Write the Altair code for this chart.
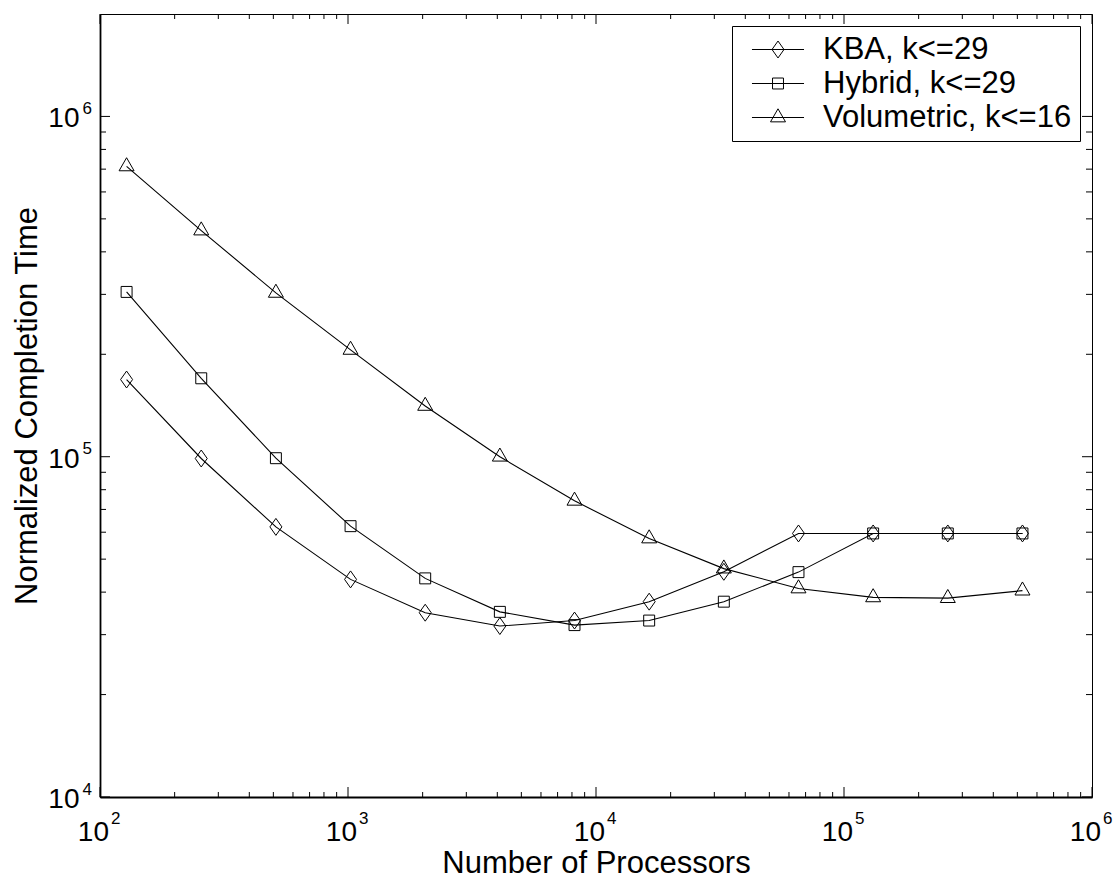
import altair as alt
import pandas as pd

# ---------------- data ----------------
procs = [128, 256, 512, 1024, 2048, 4096, 8192, 16384, 32768, 65536, 131072, 262144, 524288]
kba = [168600, 98800, 62200, 43600, 34800, 31800, 33000, 37500, 45900, 59500, 59500, 59500, 59500]
hybrid = [305000, 170000, 99000, 62500, 43900, 35000, 32000, 33000, 37500, 45800, 59500, 59500, 59500]
volumetric = [713000, 462000, 303000, 206000, 141000, 100000, 74200, 57500, 46900, 41000, 38600, 38400, 40400]
series_names = ["KBA, k<=29", "Hybrid, k<=29", "Volumetric, k<=16"]

x_major = [100, 1000, 10000, 100000, 1000000]
x_exp = ["2", "3", "4", "5", "6"]
x_minor = [m * 10 ** k for k in (2, 3, 4, 5) for m in range(2, 10)]
y_major = [10000, 100000, 1000000]
y_exp = ["4", "5", "6"]
y_minor = [m * 10 ** k for k in (4, 5) for m in range(2, 10)]

rows = []
for name, vals in zip(series_names, [kba, hybrid, volumetric]):
    for p, v in zip(procs, vals):
        rows.append({"series": name, "procs": p, "time": v})
df = pd.DataFrame(rows)

xlab = pd.DataFrame({"procs": x_major, "base": ["10"] * len(x_major), "exp": x_exp})
ylab = pd.DataFrame({"time": y_major, "base": ["10"] * len(y_major), "exp": y_exp})

# ---------------- style ----------------
W, H = 992, 783
FONT = "Liberation Sans"
TICK_FS = 28
SUP_FS = 17
TITLE_FS = 31

xscale = alt.Scale(type="log", domain=[100, 1000000], nice=False)
yscale = alt.Scale(type="log", domain=[10000, 2000000], nice=False)

marker_paths = [
    "M0,-1.13L0.8,0L0,1.13L-0.8,0Z",
    "M-0.73,-0.73H0.73V0.73H-0.73Z",
    "M0,-1.16L1,0.58L-1,0.58Z",
]
legend_paths = ["M-3.47,0H3.47" + p for p in marker_paths]

x_axis = alt.Axis(
    values=x_major,
    labels=False,
    title="Number of Processors",
    grid=False,
    ticks=False,
    tickSize=0,
    domainColor="black",
    domainWidth=1.8,
    titleFont=FONT,
    titleFontSize=TITLE_FS,
    titleFontWeight="normal",
    titleColor="black",
    titleY=75,
    titleBaseline="alphabetic",
)
y_axis = alt.Axis(
    values=y_major,
    labels=False,
    title="Normalized Completion Time",
    grid=False,
    ticks=False,
    tickSize=0,
    domainColor="black",
    domainWidth=1.8,
    titleFont=FONT,
    titleFontSize=TITLE_FS,
    titleFontWeight="normal",
    titleColor="black",
    titleX=-64,
    titleY=H / 2,
    titleAngle=270,
    titleBaseline="alphabetic",
)

lines = alt.Chart(df).mark_line(color="black", strokeWidth=1.1).encode(
    x=alt.X("procs:Q", scale=xscale, axis=x_axis, title="Number of Processors"),
    y=alt.Y("time:Q", scale=yscale, axis=y_axis, title="Normalized Completion Time"),
    detail="series:N",
)

markers = alt.Chart(df).mark_point(
    filled=False, color="black", strokeWidth=1, size=225, opacity=1
).encode(
    x=alt.X("procs:Q", scale=xscale),
    y=alt.Y("time:Q", scale=yscale),
    shape=alt.Shape(
        "series:N",
        scale=alt.Scale(domain=series_names, range=marker_paths),
        legend=None,
    ),
)

legend_layer = alt.Chart(df).transform_filter("false").mark_point(
    filled=False, color="black", strokeWidth=1, size=225, opacity=1
).encode(
    x=alt.X("procs:Q", scale=xscale),
    y=alt.Y("time:Q", scale=yscale),
    shape=alt.Shape(
        "series:N",
        scale=alt.Scale(domain=series_names, range=legend_paths),
        legend=alt.Legend(
            title=None,
            orient="top-right",
            offset=12,
            padding=8,
            fillColor="white",
            strokeColor="black",
            cornerRadius=0,
            labelFont=FONT,
            labelFontSize=TITLE_FS,
            labelColor="black",
            labelLimit=0,
            symbolSize=225,
            symbolOffset=22.5,
            labelOffset=29.5,
            rowPadding=2,
            symbolStrokeColor="black",
            symbolStrokeWidth=1,
            symbolFillColor="transparent",
        ),
    ),
)

# tick labels as "10" with a raised exponent
xl_base = alt.Chart(xlab).mark_text(
    font=FONT, fontSize=TICK_FS, color="black", align="right", baseline="alphabetic", dx=9
).encode(x=alt.X("procs:Q", scale=xscale), y=alt.value(H + 44), text="base:N")
xl_exp = alt.Chart(xlab).mark_text(
    font=FONT, fontSize=SUP_FS, color="black", align="left", baseline="alphabetic", dx=11
).encode(x=alt.X("procs:Q", scale=xscale), y=alt.value(H + 26.5), text="exp:N")
yl_base = alt.Chart(ylab).mark_text(
    font=FONT, fontSize=TICK_FS, color="black", align="right", baseline="alphabetic", dy=11
).encode(y=alt.Y("time:Q", scale=yscale), x=alt.value(-20.5), text="base:N")
yl_exp = alt.Chart(ylab).mark_text(
    font=FONT, fontSize=SUP_FS, color="black", align="left", baseline="alphabetic", dy=-2.3
).encode(y=alt.Y("time:Q", scale=yscale), x=alt.value(-17.5), text="exp:N")


def xticks(vals, L, top):
    d = pd.DataFrame({"procs": vals})
    if top:
        yy, yy2 = alt.value(0), alt.value(L)
    else:
        yy, yy2 = alt.value(H), alt.value(H - L)
    return alt.Chart(d).mark_rule(color="black", strokeWidth=1).encode(
        x=alt.X("procs:Q", scale=xscale), y=yy, y2=yy2
    )


def yticks(vals, L, right):
    d = pd.DataFrame({"time": vals})
    if right:
        xx, xx2 = alt.value(W), alt.value(W - L)
    else:
        xx, xx2 = alt.value(0), alt.value(L)
    return alt.Chart(d).mark_rule(color="black", strokeWidth=1).encode(
        y=alt.Y("time:Q", scale=yscale), x=xx, x2=xx2
    )


tick_layers = [
    xticks(x_major, 10, False), xticks(x_minor, 5, False),
    xticks(x_major, 10, True), xticks(x_minor, 5, True),
    yticks(y_major, 10, False), yticks(y_minor, 6, False),
    yticks(y_major, 10, True), yticks(y_minor, 6, True),
]

chart = alt.layer(
    lines, markers, legend_layer, xl_base, xl_exp, yl_base, yl_exp, *tick_layers
).resolve_scale(
    shape="independent"
).properties(
    width=W,
    height=H,
    autosize=alt.AutoSizeParams(type="none"),
    padding={"left": 100, "top": 14, "right": 27, "bottom": 83},
    background="white",
).configure_view(stroke="black", strokeWidth=1)

chart.save("out.html", embed_options={"renderer": "svg", "actions": False})
